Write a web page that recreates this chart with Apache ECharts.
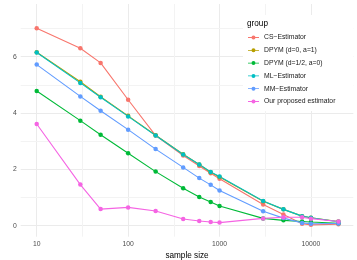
<!DOCTYPE html>
<html><head><meta charset="utf-8">
<script src="https://cdn.jsdelivr.net/npm/echarts@6/dist/echarts.min.js"></script>
<style>html,body{margin:0;padding:0;background:#fff}#c{width:357px;height:260px}</style>
</head><body><div id="c"></div>
<script>
const sampleSizes = [10, 30, 50, 100, 200, 400, 600, 800, 1000, 3000, 5000, 8000, 10000, 20000];
const groupNames = ['CS\u2212Estimator', 'DPYM (d=0, a=1)', 'DPYM (d=1/2, a=0)', 'ML\u2212Estimator', 'MM\u2212Estimator', 'Our proposed estimator'];
const csEstimator  = [7.01, 6.30, 5.78, 4.47, 3.20, 2.49, 2.12, 1.86, 1.67, 0.75, 0.40, 0.07, 0.03, 0.05];
const dpymD0A1     = [6.16, 5.11, 4.58, 3.90, 3.21, 2.54, 2.17, 1.90, 1.73, 0.87, 0.58, 0.34, 0.28, 0.15];
const dpymDhalfA0  = [4.78, 3.73, 3.23, 2.57, 1.92, 1.33, 1.02, 0.84, 0.70, 0.26, 0.19, 0.15, 0.13, 0.09];
const mlEstimator  = [6.15, 5.07, 4.56, 3.88, 3.20, 2.53, 2.17, 1.91, 1.75, 0.88, 0.58, 0.34, 0.28, 0.14];
const mmEstimator  = [5.72, 4.59, 4.08, 3.41, 2.72, 2.07, 1.69, 1.45, 1.25, 0.51, 0.27, 0.10, 0.07, 0.08];
const proposedEst  = [3.61, 1.46, 0.59, 0.65, 0.52, 0.24, 0.17, 0.13, 0.11, 0.26, 0.30, 0.30, 0.25, 0.15];
const seriesValues = [csEstimator, dpymD0A1, dpymDhalfA0, mlEstimator, mmEstimator, proposedEst];
const groupColors = ['#F8766D', '#B79F00', '#00BA38', '#00BFC4', '#619CFF', '#F564E3'];
const xMinorBreaks = [31.62, 316.2, 3162];
const yMinorBreaks = [1, 3, 5, 7];

const chart = echarts.init(document.getElementById('c'), null, {renderer: 'canvas'});
const FONT = 'Liberation Sans, Arial, sans-serif';
const LEGEND_ICON = 'path://M0,2.1L11,2.1L11,2.9L0,2.9Z M5.5,0.5A2,2 0 1 1 5.49,0.5Z';

const series = groupNames.map((name, k) => {
  const s = {
    name: name,
    type: 'line',
    data: sampleSizes.map((x, i) => [x, seriesValues[k][i]]),
    symbol: 'circle',
    symbolSize: 4.5,
    showSymbol: true,
    color: groupColors[k],
    lineStyle: {width: 1.1, color: groupColors[k]},
    itemStyle: {color: groupColors[k]},
    animation: false,
    z: 3
  };
  if (k === 0) {
    s.markLine = {
      silent: true, symbol: ['none', 'none'], animation: false, z: 1,
      label: {show: false},
      lineStyle: {color: '#F3F3F3', width: 1, type: 'solid'},
      data: xMinorBreaks.map(v => ({xAxis: v})).concat(yMinorBreaks.map(v => ({yAxis: v})))
    };
  }
  return s;
});

chart.setOption({
  animation: false,
  backgroundColor: '#fff',
  textStyle: {fontFamily: FONT},
  grid: {left: 20.7, right: 3.7, top: 4, bottom: 23.3, containLabel: false, outerBoundsMode: 'none'},
  title: {text: 'group', left: 247, top: 19.5, padding: 0, z: 10,
    textStyle: {fontSize: 8.2, fontWeight: 'normal', color: '#000', fontFamily: FONT}},
  legend: {
    orient: 'vertical', left: 248, top: 33.5, padding: 0, z: 10,
    itemWidth: 11, itemHeight: 5, itemGap: 4.8,
    icon: LEGEND_ICON,
    textStyle: {fontSize: 6.8, color: '#1A1A1A', lineHeight: 8, fontFamily: FONT},
    data: groupNames
  },
  graphic: [{type: 'rect', shape: {x: 243, y: 15, width: 110, height: 96}, style: {fill: '#fff'}, z: 5, silent: true}],
  xAxis: {
    type: 'log', logBase: 10, min: 6.68, max: 29060,
    name: 'sample size', nameLocation: 'middle', nameGap: 14.6,
    nameTextStyle: {fontSize: 8.2, color: '#000', fontFamily: FONT},
    axisLine: {show: false}, axisTick: {show: false},
    axisLabel: {fontSize: 6.8, color: '#4D4D4D', margin: 3.5, showMinLabel: false, showMaxLabel: false,
      formatter: v => String(Math.round(v)), fontFamily: FONT},
    splitLine: {show: true, showMinLine: false, showMaxLine: false, lineStyle: {color: '#EBEBEB', width: 1}}
  },
  yAxis: {
    type: 'value', min: -0.39, max: 7.87, splitNumber: 4, minInterval: 2, maxInterval: 2,
    name: 'Error', nameLocation: 'middle', nameGap: 14, nameRotate: 90,
    nameTextStyle: {fontSize: 8.2, color: '#000', fontFamily: FONT},
    axisLine: {show: false}, axisTick: {show: false},
    axisLabel: {fontSize: 6.8, color: '#4D4D4D', margin: 4, showMinLabel: false, showMaxLabel: false, fontFamily: FONT},
    splitLine: {show: true, showMinLine: false, showMaxLine: false, lineStyle: {color: '#EBEBEB', width: 1}}
  },
  series: series
});
</script></body></html>
